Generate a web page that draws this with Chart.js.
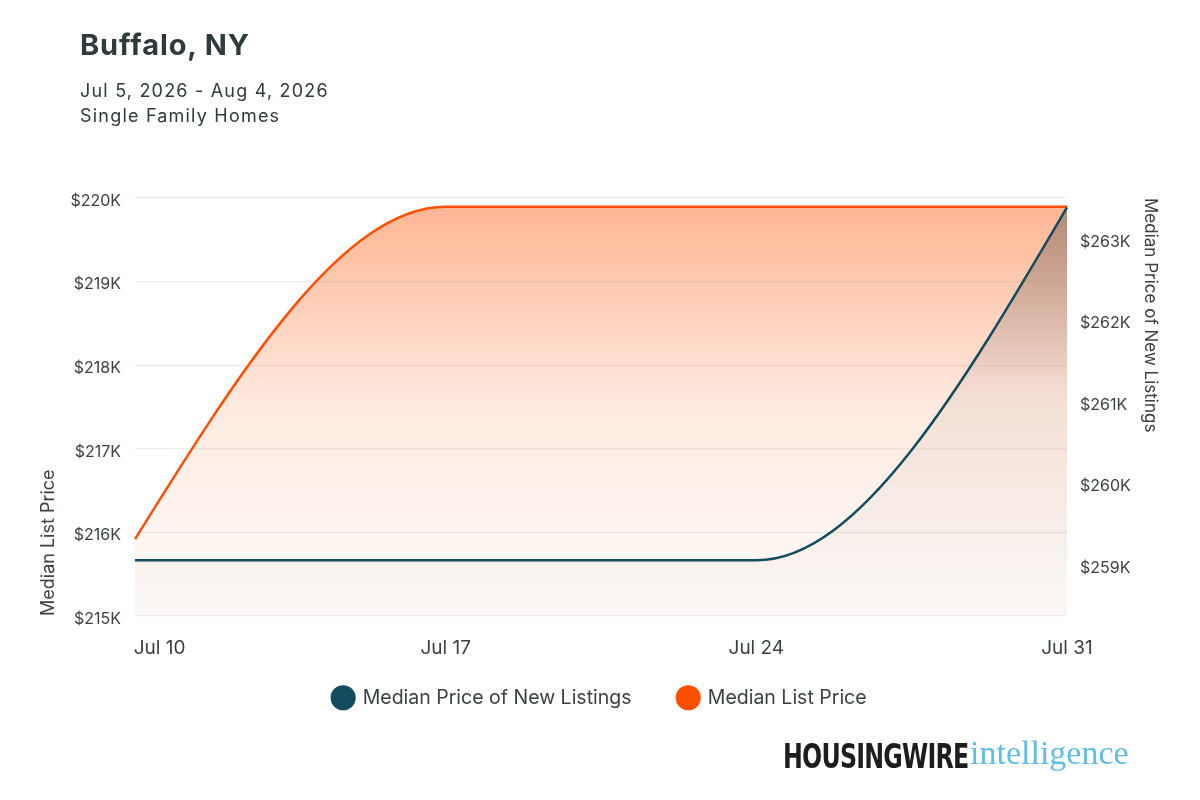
<!DOCTYPE html>
<html>
<head>
<meta charset="utf-8">
<script src="https://cdn.jsdelivr.net/npm/chart.js@4.4.1/dist/chart.umd.min.js"></script>
<style>
  html, body { margin: 0; padding: 0; background: #fff; }
  #wrap { position: relative; width: 1200px; height: 800px; }
  #grafico { position: absolute; left: 0; top: 0; }
  .titulo { position: absolute; left: 80px; top: 27px; font: bold 29px Inter, sans-serif; color: #2f3a3d; letter-spacing: 0.9px; }
  .sub { position: absolute; left: 80px; font: 18px Inter, sans-serif; color: #2f3a3d; letter-spacing: 1.2px; }
  .hw { position: absolute; left: 783px; top: 737px; font: bold 33px "Liberation Sans Narrow", "DejaVu Sans Condensed", sans-serif; color: #1b1d1e; letter-spacing: -1px; transform: scaleX(0.8); transform-origin: left top; white-space: nowrap; }
  .intel { position: absolute; left: 970px; top: 734px; font: 34px "Liberation Serif", "DejaVu Serif", serif; color: #62bde6; white-space: nowrap; }
</style>
</head>
<body>
<div id="wrap">
  <canvas id="grafico" width="1200" height="800"></canvas>
  <div class="titulo">Buffalo, NY</div>
  <div class="sub" style="top:80px">Jul 5, 2026 - Aug 4, 2026</div>
  <div class="sub" style="top:105px">Single Family Homes</div>
  <div class="hw">HOUSINGWIRE</div>
  <div class="intel">intelligence</div>
</div>
<script>
const semanas = ['Jul 10', 'Jul 17', 'Jul 24', 'Jul 31'];
const precoNovosAnuncios = [259070, 259070, 259070, 263400];
const precoMedioLista = [215920, 219895, 219895, 219895];
const ticksEsquerda = [215000, 216000, 217000, 218000, 219000, 220000];
const ticksDireita = [259000, 260000, 261000, 262000, 263000];

const corTeal = '#134b5f';
const corLaranja = '#ff4f00';
const corTexto = '#3a4144';

function gradiente(ctx, area, paradas) {
  const g = ctx.createLinearGradient(0, area.top, 0, area.bottom);
  paradas.forEach(p => g.addColorStop(p[0], p[1]));
  return g;
}

const fmtK = v => '$' + Math.round(v / 1000) + 'K';

// tangentes das pontas como no monotone do d3: (3*delta - t)/2
const pontasMonotone = {
  id: 'pontasMonotone',
  beforeDatasetsDraw(chart) {
    chart.getSortedVisibleDatasetMetas().forEach(meta => {
      const pts = meta.data;
      const n = pts.length;
      if (n < 3) return;
      const a = pts[0], b = pts[1];
      const tb = (b.cp2x !== b.x) ? (b.cp2y - b.y) / (b.cp2x - b.x) : 0;
      const m0 = (3 * (b.y - a.y) / (b.x - a.x) - tb) / 2;
      a.cp2x = a.x + (b.x - a.x) / 3;
      a.cp2y = a.y + m0 * (b.x - a.x) / 3;
      const y = pts[n - 2], z = pts[n - 1];
      const ty = (y.cp2x !== y.x) ? (y.cp2y - y.y) / (y.cp2x - y.x) : 0;
      const mn = (3 * (z.y - y.y) / (z.x - y.x) - ty) / 2;
      z.cp1x = z.x - (z.x - y.x) / 3;
      z.cp1y = z.y - mn * (z.x - y.x) / 3;
    });
  }
};

// legenda um pouco mais perto do eixo
const subirLegenda = {
  id: 'subirLegenda',
  afterLayout(chart) {
    const l = chart.legend;
    l.top -= 19;
    l.bottom -= 19;
  }
};

const ctx = document.getElementById('grafico').getContext('2d');

new Chart(ctx, {
  type: 'line',
  plugins: [pontasMonotone, subirLegenda],
  data: {
    labels: semanas,
    datasets: [{
      label: 'Median Price of New Listings',
      data: precoNovosAnuncios,
      yAxisID: 'y1',
      borderColor: corTeal,
      backgroundColor: corTeal,
      borderWidth: 2.5,
      pointRadius: 0,
      cubicInterpolationMode: 'monotone',
      fill: {
        target: 'start',
        above: (c) => {
          const area = c.chart.chartArea;
          if (!area) return 'rgba(0,0,0,0)';
          return gradiente(c.chart.ctx, area, [
            [0, 'rgba(50,58,62,0.38)'],
            [0.45, 'rgba(50,58,62,0.06)'],
            [1, 'rgba(50,58,62,0.02)']
          ]);
        }
      }
    }, {
      label: 'Median List Price',
      data: precoMedioLista,
      yAxisID: 'y',
      borderColor: corLaranja,
      backgroundColor: corLaranja,
      borderWidth: 2.5,
      pointRadius: 0,
      cubicInterpolationMode: 'monotone',
      fill: {
        target: 'start',
        above: (c) => {
          const area = c.chart.chartArea;
          if (!area) return 'rgba(0,0,0,0)';
          return gradiente(c.chart.ctx, area, [
            [0, 'rgba(255,105,35,0.5)'],
            [0.5, 'rgba(255,105,35,0.14)'],
            [1, 'rgba(255,105,35,0.02)']
          ]);
        }
      }
    }]
  },
  options: {
    responsive: false,
    animation: false,
    layout: { padding: { top: 198, left: 0, right: 0, bottom: 63.5 } },
    plugins: {
      legend: {
        position: 'bottom',
        labels: {
          usePointStyle: true,
          pointStyle: 'circle',
          boxHeight: 16,
          boxWidth: 20,
          padding: 47,
          color: corTexto,
          font: { family: 'Inter', size: 19.5 }
        }
      },
      tooltip: { enabled: false }
    },
    scales: {
      x: {
        grid: { display: false, drawTicks: false },
        border: { display: false },
        afterFit: (s) => { s.height = 44; },
        ticks: {
          padding: 21,
          maxRotation: 0,
          autoSkip: false,
          color: corTexto,
          font: { family: 'Inter', size: 19 },
          // primeiro rótulo fica deslocado para dentro
          callback: function (v, i) {
            const t = this.getLabelForValue(v);
            return i === 0 ? '\u2007\u2007\u2007\u2007' + t : t;
          }
        }
      },
      y: {
        position: 'left',
        min: 215000,
        max: 220000,
        afterFit: (s) => { s.width = 135; },
        afterBuildTicks: (s) => { s.ticks = ticksEsquerda.map(v => ({ value: v })); },
        grid: { color: '#eeeeee', lineWidth: 1.2, drawTicks: false },
        border: { display: false },
        ticks: {
          padding: 14,
          labelOffset: 3,
          color: corTexto,
          font: { family: 'Inter', size: 16 },
          callback: fmtK
        },
        title: {
          display: true,
          text: 'Median List Price',
          align: 'start',
          color: corTexto,
          padding: { top: 38, bottom: 0 },
          font: { family: 'Inter', size: 18 }
        }
      },
      y1: {
        position: 'right',
        min: 258387,
        max: 263515,
        afterFit: (s) => { s.width = 133; },
        afterBuildTicks: (s) => { s.ticks = ticksDireita.map(v => ({ value: v })); },
        grid: { display: false, drawTicks: false },
        border: { display: false },
        ticks: {
          padding: 13,
          labelOffset: 2,
          color: corTexto,
          font: { family: 'Inter', size: 16 },
          callback: fmtK
        },
        title: {
          display: true,
          text: 'Median Price of New Listings',
          align: 'end',
          color: corTexto,
          padding: { top: 40, bottom: 0 },
          font: { family: 'Inter', size: 17 }
        }
      }
    }
  }
});
</script>
</body>
</html>
